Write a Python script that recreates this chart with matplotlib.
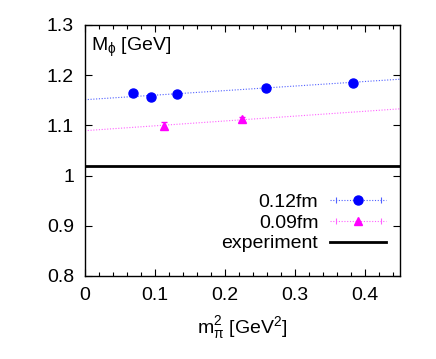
import numpy as np
import matplotlib.pyplot as plt
from matplotlib.ticker import MultipleLocator
from matplotlib.lines import Line2D
from matplotlib.legend_handler import HandlerLine2D

plt.rcParams['font.family'] = ['Liberation Sans', 'DejaVu Sans']
plt.rcParams['mathtext.fontset'] = 'custom'
plt.rcParams['mathtext.rm'] = 'Liberation Sans'
plt.rcParams['mathtext.it'] = 'Liberation Sans'

# data
mpi2_12 = [0.068, 0.094, 0.131, 0.258, 0.383]
mphi_12 = [1.1645, 1.156, 1.163, 1.1745, 1.1838]
err_12 = [0.003, 0.003, 0.003, 0.003, 0.003]

mpi2_09 = [0.113, 0.224]
mphi_09 = [1.0994, 1.1127]
err_09 = [0.007, 0.004]

# linear fits (intercept, slope)
fit_12 = [1.1512, 0.0907]
fit_09 = [1.0895, 0.0967]

m_exp = 1.019

blue = '#0000ff'
pink = '#ff00ff'
dots = (0, (1, 1.5))

fig = plt.figure(figsize=(4.36, 3.59), dpi=100)
ax = fig.add_axes([85/436, 1 - 276/359, 315/436, 251/359])

xx = np.array([0, 0.45])
ax.plot(xx, fit_12[0] + fit_12[1]*xx, ls=dots, color='#5060ff', lw=0.8)
ax.plot(xx, fit_09[0] + fit_09[1]*xx, ls=dots, color='#ff60ff', lw=0.8)

ax.errorbar(mpi2_12, mphi_12, yerr=err_12, fmt='o', color=blue, ms=6.5,
            elinewidth=0.8, capsize=2)
ax.errorbar(mpi2_09, mphi_09, yerr=err_09, fmt='^', color=pink, ms=5.5,
            elinewidth=0.8, capsize=2)
ax.axhline(m_exp, color='black', lw=2)

# legend handles in gnuplot style: dotted line, caps at ends, marker in middle
h12 = Line2D([], [], ls=dots, color='#5060ff', lw=0.8, marker='o', ms=6.5,
             mfc=blue, mec=blue)
c12 = Line2D([], [], ls='none', marker='|', ms=5, color='#5060ff', mew=0.8)
h09 = Line2D([], [], ls=dots, color='#ff60ff', lw=0.8, marker='^', ms=5.5,
             mfc=pink, mec=pink)
c09 = Line2D([], [], ls='none', marker='|', ms=5, color='#ff60ff', mew=0.8)
hexp = Line2D([], [], color='black', lw=2)

ax.set_xlim(0, 0.45)
ax.set_ylim(0.8, 1.3)
ax.xaxis.set_major_locator(MultipleLocator(0.1))
ax.xaxis.set_minor_locator(MultipleLocator(0.02))
ax.yaxis.set_major_locator(MultipleLocator(0.1))
ax.xaxis.set_major_formatter(plt.FuncFormatter(lambda v, p: '0' if abs(v) < 1e-9 else '%g' % v))
ax.yaxis.set_major_formatter(plt.FuncFormatter(lambda v, p: '1' if abs(v-1) < 1e-9 else '%.1f' % v))
ax.tick_params(which='both', direction='in', top=True, right=True, labelsize=14, pad=8)
ax.tick_params(which='major', length=5, width=0.8)
ax.tick_params(which='minor', length=3, width=0.8)
for s in ax.spines.values():
    s.set_linewidth(1.0)

ax.text(0.02, 0.955, r'M$_\phi$ [GeV]', transform=ax.transAxes, fontsize=14,
        va='top', ha='left')
ax.set_xlabel(r'm$_\pi^2$ [GeV$^2$]', fontsize=14, labelpad=7)

leg = ax.legend([(h12, c12), (h09, c09), hexp], ['0.12fm', '0.09fm', 'experiment'],
                handler_map={c12: HandlerLine2D(numpoints=2), c09: HandlerLine2D(numpoints=2)},
                loc='lower right', bbox_to_anchor=(1.0, 0.04), frameon=False,
                markerfirst=False, fontsize=14, handlelength=2.9,
                borderaxespad=0.3, labelspacing=0.15, handletextpad=0.6)
for t in leg.get_texts():
    t.set_ha('right')

fig.savefig('out.png', dpi=100)
